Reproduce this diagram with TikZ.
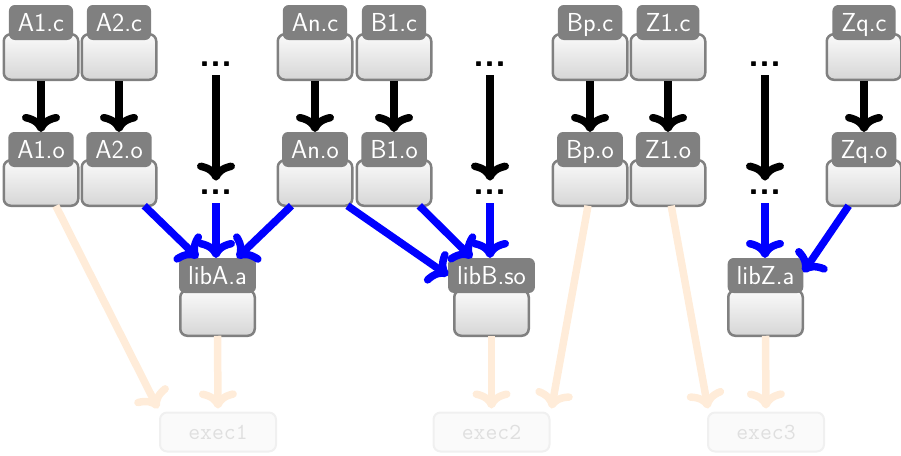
\documentclass[tikz,border=0pt]{standalone}
\usepackage{fontspec}
\usetikzlibrary{arrows.meta}
\tikzset{
  body/.style={draw=gray, line width=2.5pt, rounded corners=7pt,
    top color=gray!4, bottom color=gray!32,
    minimum width=74.5pt, minimum height=45.5pt, inner sep=0pt, outer sep=0pt},
  tag/.style={fill=gray, text=white, rounded corners=6pt, minimum height=35pt,
    inner xsep=9pt, inner ysep=0pt, outer sep=0pt, text height=17pt, text depth=0pt,
    font=\sffamily\fontsize{26}{26}\selectfont},
  dotsnode/.style={font=\sffamily\bfseries\fontsize{36}{36}\selectfont,
    inner xsep=0pt, inner ysep=9pt, outer sep=0pt},
  exe/.style={draw=gray!12, fill=gray!4, line width=2pt, rounded corners=7pt,
    text=gray!25, font=\ttfamily\fontsize{23}{23}\selectfont,
    minimum width=116pt, minimum height=39pt, inner sep=0pt, outer sep=0pt},
  dep/.style={line width=7.5pt, -{Computer Modern Rightarrow}},
  compile/.style={dep, draw=black},
  link/.style={dep, draw=blue},
  build/.style={dep, draw=orange!15},
}
\newcommand\filenode[5]{%
  \node[body] (#1) at (#2,#3) {};
  \node[tag] (#1t) at (#2,#4) {#5};}
\begin{document}
\begin{tikzpicture}[x=1pt,y=-1pt]
\useasboundingbox (0,0) rectangle (901,455);
% sources
\filenode{A1c}{41}{57}{22.5}{A1.c}
\filenode{A2c}{119}{57}{22.5}{A2.c}
\filenode{Anc}{315}{57}{22.5}{An.c}
\filenode{B1c}{394}{57}{22.5}{B1.c}
\filenode{Bpc}{590}{57}{22.5}{Bp.c}
\filenode{Z1c}{668}{57}{22.5}{Z1.c}
\filenode{Zqc}{864}{57}{22.5}{Zq.c}
% objects
\filenode{A1o}{41}{183}{149.5}{A1.o}
\filenode{A2o}{119}{183}{149.5}{A2.o}
\filenode{Ano}{315}{183}{149.5}{An.o}
\filenode{B1o}{394}{183}{149.5}{B1.o}
\filenode{Bpo}{590}{183}{149.5}{Bp.o}
\filenode{Z1o}{668}{183}{149.5}{Z1.o}
\filenode{Zqo}{864}{183}{149.5}{Zq.o}
% libraries
\filenode{libA}{217.5}{313}{275.5}{libA.a}
\filenode{libB}{491.5}{313}{275.5}{libB.so}
\filenode{libZ}{765.5}{313}{275.5}{libZ.a}
% dots
\node[dotsnode] (d1t) at (216,64) {...};
\node[dotsnode] (d1b) at (216,192) {...};
\node[dotsnode] (d2t) at (490,64) {...};
\node[dotsnode] (d2b) at (490,192) {...};
\node[dotsnode] (d3t) at (765,64) {...};
\node[dotsnode] (d3b) at (765,192) {...};
% executables
\node[exe] (exec1) at (218,432) {exec1};
\node[exe] (exec2) at (491.5,432) {exec2};
\node[exe] (exec3) at (766,432) {exec3};
% compile
\foreach \n in {A1,A2,An,B1,Bp,Z1,Zq}
  \draw[compile] (\n c.south) ++(0,1.5) -- (\n ot.north);
\foreach \n in {1,2,3}
  \draw[compile] (d\n t.south) -- (d\n b.north);
% link
\draw[link] (A2o.-42) -- (libAt.138);
\draw[link] (d1b.south) -- (d1b.south |- libAt.north);
\draw[link] (Ano.-136) -- (libAt.42);
\draw[link] (Ano.-35) -- (libBt.west);
\draw[link] (B1o.-42) -- (libBt.138);
\draw[link] (d2b.south) -- (d2b.south |- libBt.north);
\draw[link] (d3b.south) -- (d3b.south |- libZt.north);
\draw[link] (Zqo.-124) -- (libZt.5);
% build
\draw[build] (A1o.-57) -- ([xshift=-2pt,yshift=4pt]exec1.north west);
\draw[build] (libA.south) -- ([yshift=4pt]exec1.north);
\draw[build] (libB.south) -- ([yshift=4pt]exec2.north);
\draw[build] (Bpo.-95) -- ([xshift=2pt,yshift=4pt]exec2.north east);
\draw[build] (Z1o.-82) -- ([yshift=4pt]exec3.north west);
\draw[build] (libZ.south) -- ([yshift=4pt]exec3.north);
\end{tikzpicture}
\end{document}
